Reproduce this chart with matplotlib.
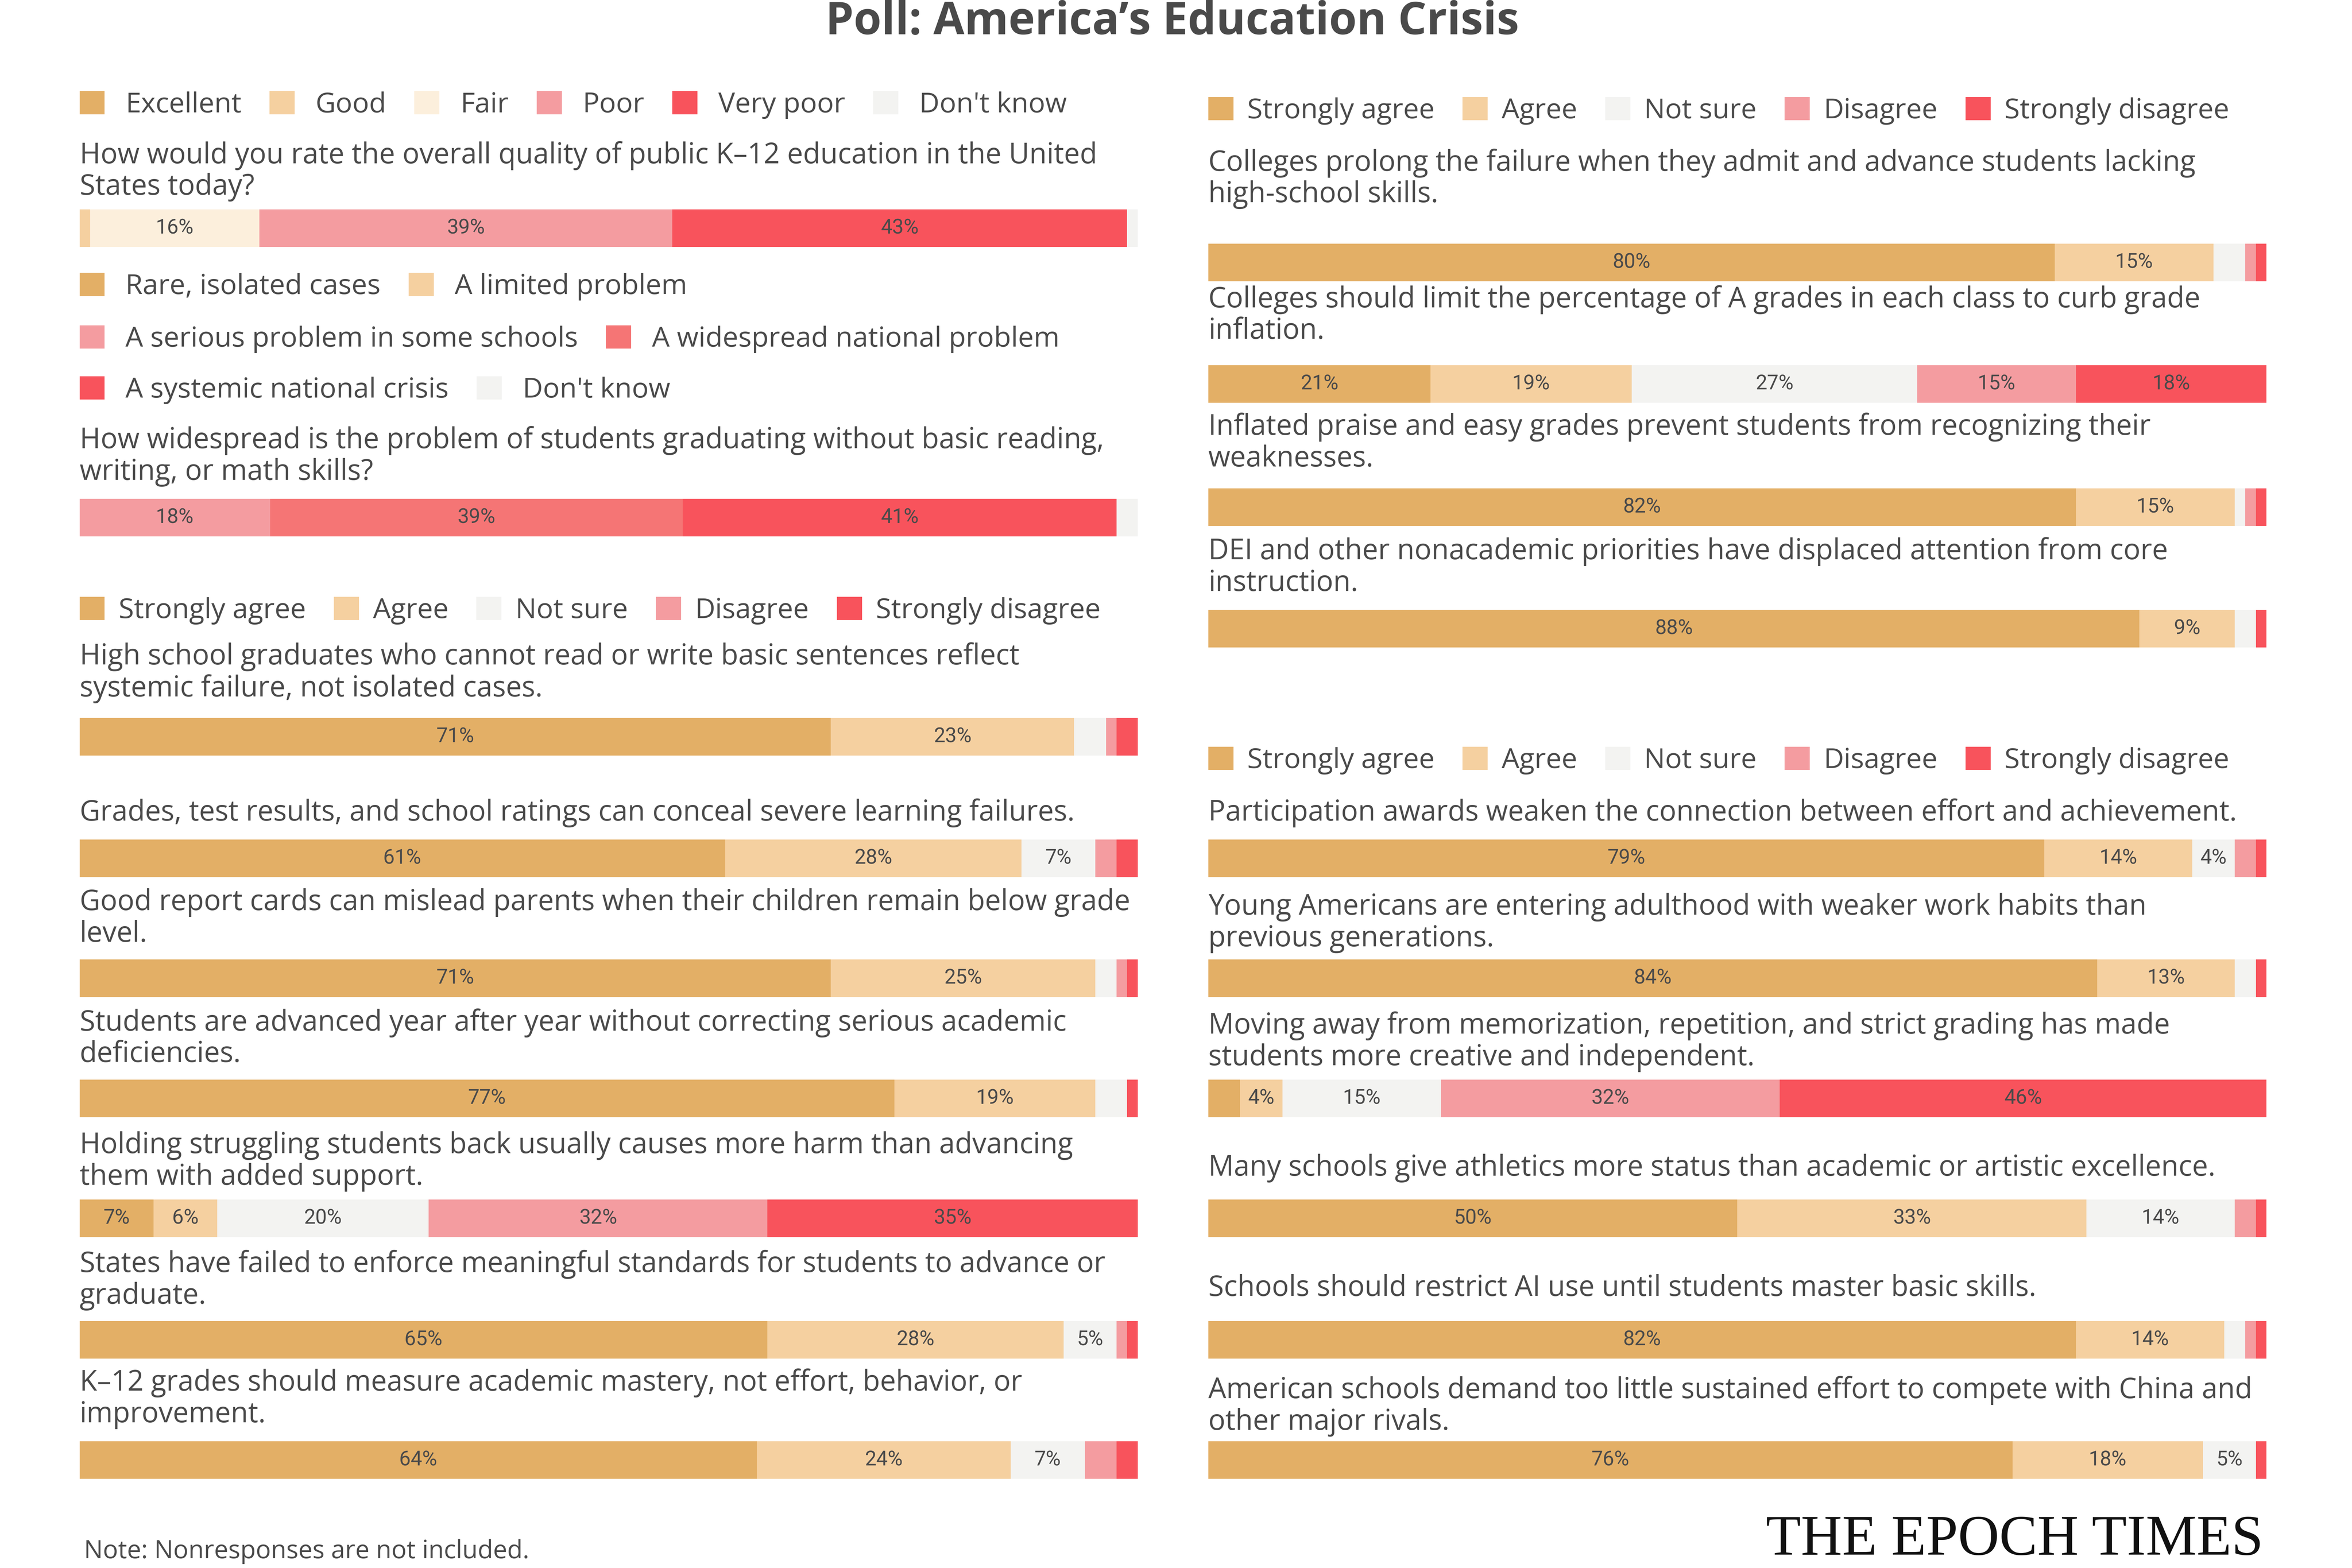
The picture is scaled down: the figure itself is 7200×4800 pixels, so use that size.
import matplotlib

matplotlib.use("Agg")
import matplotlib.pyplot as plt
from matplotlib.patches import Patch

# layout grid in reference units (the reference as displayed, 1567 wide)
W, H = 1567, 1045
TEXT = "#4a4a4a"

plt.rcParams["font.family"] = ["Open Sans", "DejaVu Sans"]

# colours
C_SA = "#E3AF66"
C_A = "#F5D0A0"
C_FAIR = "#FCEFDC"
C_NS = "#F3F3F1"
C_D = "#F49CA0"
C_WIDE = "#F57575"
C_SD = "#F8535C"

# ---- data ----
rating_labels = ["Excellent", "Good", "Fair", "Poor", "Very poor", "Don't know"]
rating_colors = [C_SA, C_A, C_FAIR, C_D, C_SD, C_NS]
quality_question = ("How would you rate the overall quality of public K\u201312 education in the United\n"
                    "States today?")
quality_values = [0, 1, 16, 39, 43, 1]

problem_labels = ["Rare, isolated cases", "A limited problem",
                  "A serious problem in some schools", "A widespread national problem",
                  "A systemic national crisis", "Don't know"]
problem_colors = [C_SA, C_A, C_D, C_WIDE, C_SD, C_NS]
problem_question = ("How widespread is the problem of students graduating without basic reading,\n"
                    "writing, or math skills?")
problem_values = [0, 0, 18, 39, 41, 2]

agree_labels = ["Strongly agree", "Agree", "Not sure", "Disagree", "Strongly disagree"]
agree_colors = [C_SA, C_A, C_NS, C_D, C_SD]

left_questions = [
    "High school graduates who cannot read or write basic sentences reflect\nsystemic failure, not isolated cases.",
    "Grades, test results, and school ratings can conceal severe learning failures.",
    "Good report cards can mislead parents when their children remain below grade\nlevel.",
    "Students are advanced year after year without correcting serious academic\ndeficiencies.",
    "Holding struggling students back usually causes more harm than advancing\nthem with added support.",
    "States have failed to enforce meaningful standards for students to advance or\ngraduate.",
    "K\u201312 grades should measure academic mastery, not effort, behavior, or\nimprovement.",
]
left_values = [
    [71, 23, 3, 1, 2],
    [61, 28, 7, 2, 2],
    [71, 25, 2, 1, 1],
    [77, 19, 3, 0, 1],
    [7, 6, 20, 32, 35],
    [65, 28, 5, 1, 1],
    [64, 24, 7, 3, 2],
]

college_questions = [
    "Colleges prolong the failure when they admit and advance students lacking\nhigh-school skills.",
    "Colleges should limit the percentage of A grades in each class to curb grade\ninflation.",
    "Inflated praise and easy grades prevent students from recognizing their\nweaknesses.",
    "DEI and other nonacademic priorities have displaced attention from core\ninstruction.",
]
college_values = [
    [80, 15, 3, 1, 1],
    [21, 19, 27, 15, 18],
    [82, 15, 1, 1, 1],
    [88, 9, 2, 0, 1],
]

culture_questions = [
    "Participation awards weaken the connection between effort and achievement.",
    "Young Americans are entering adulthood with weaker work habits than\nprevious generations.",
    "Moving away from memorization, repetition, and strict grading has made\nstudents more creative and independent.",
    "Many schools give athletics more status than academic or artistic excellence.",
    "Schools should restrict AI use until students master basic skills.",
    "American schools demand too little sustained effort to compete with China and\nother major rivals.",
]
culture_values = [
    [79, 14, 4, 2, 1],
    [84, 13, 2, 0, 1],
    [3, 4, 15, 32, 46],
    [50, 33, 14, 2, 1],
    [82, 14, 2, 1, 1],
    [76, 18, 5, 0, 1],
]

# ---- layout positions (reference units) ----
LX0, LX1 = 53, 758
RX0, RX1 = 805, 1510
left_text_y = [437, 541, 601, 681, 763, 842, 921]
left_bar_y = [491, 572, 652, 732, 812, 893, 973]
college_text_y = [108, 199, 284, 367]
college_bar_y = [175, 256, 338, 419]
culture_text_y = [541, 604, 683, 778, 858, 926]
culture_bar_y = [572, 652, 732, 812, 893, 973]

FS_Q = 20.8
FS_LEG = 20.5


def fx(px):
    return px / W


def fy(py):
    return 1 - py / H


fig = plt.figure(figsize=(24, 16), dpi=300)


def add_legend(labels, colors, x, y, pad=0.5):
    handles = [Patch(facecolor=c, edgecolor="none", label=l) for l, c in zip(labels, colors)]
    fig.legend(handles=handles, loc="center left", bbox_to_anchor=(fx(x), fy(y)),
               ncol=len(handles), frameon=False, labelcolor=TEXT,
               prop={"size": FS_LEG, "weight": "medium"},
               handlelength=0.9, handleheight=0.9, handletextpad=pad,
               columnspacing=1.0, borderpad=0, borderaxespad=0)


def add_question(text, x, y):
    fig.text(fx(x), fy(y - 9), text, ha="left", va="top", fontsize=FS_Q,
             fontweight="medium", color=TEXT, linespacing=1.13)


def add_bar(values, colors, x0, x1, yc, h=25):
    ax = fig.add_axes([fx(x0), fy(yc + h / 2), fx(x1 - x0), h / H])
    left = 0
    for v, c in zip(values, colors):
        ax.barh(0, v, left=left, height=1, color=c, linewidth=0)
        if v >= 4:
            ax.text(left + v / 2, 0, f"{v}%", ha="center", va="center",
                    fontsize=15, color=TEXT, family="Roboto")
        left += v
    ax.set_xlim(0, sum(values))
    ax.set_ylim(-0.5, 0.5)
    ax.axis("off")


fig.text(fx(781), fy(15), "Poll: America\u2019s Education Crisis", ha="center", va="center",
         fontsize=33, fontweight="bold", color=TEXT)

# left column
add_legend(rating_labels, rating_colors, LX0, 70, pad=0.75)
add_question(quality_question, LX0, 103)
add_bar(quality_values, rating_colors, LX0, LX1, 152)

add_legend(problem_labels[0:2], problem_colors[0:2], LX0, 191, pad=0.75)
add_legend(problem_labels[2:4], problem_colors[2:4], LX0, 226, pad=0.75)
add_legend(problem_labels[4:6], problem_colors[4:6], LX0, 260, pad=0.75)
add_question(problem_question, LX0, 293)
add_bar(problem_values, problem_colors, LX0, LX1, 345)

add_legend(agree_labels, agree_colors, LX0, 407)
for q, vals, ty, by in zip(left_questions, left_values, left_text_y, left_bar_y):
    add_question(q, LX0, ty)
    add_bar(vals, agree_colors, LX0, LX1, by)

# right column
add_legend(agree_labels, agree_colors, RX0, 74)
for q, vals, ty, by in zip(college_questions, college_values, college_text_y, college_bar_y):
    add_question(q, RX0, ty)
    add_bar(vals, agree_colors, RX0, RX1, by)

add_legend(agree_labels, agree_colors, RX0, 507)
for q, vals, ty, by in zip(culture_questions, culture_values, culture_text_y, culture_bar_y):
    add_question(q, RX0, ty)
    add_bar(vals, agree_colors, RX0, RX1, by)

fig.text(fx(56), fy(1034), "Note: Nonresponses are not included.", ha="left", va="center",
         fontsize=18.5, color=TEXT)
fig.text(fx(1508), fy(1036), "THE EPOCH TIMES", ha="right", va="baseline",
         fontsize=42, family="Liberation Serif", color="#111111")

fig.savefig("out.png", dpi=300, facecolor="white")
